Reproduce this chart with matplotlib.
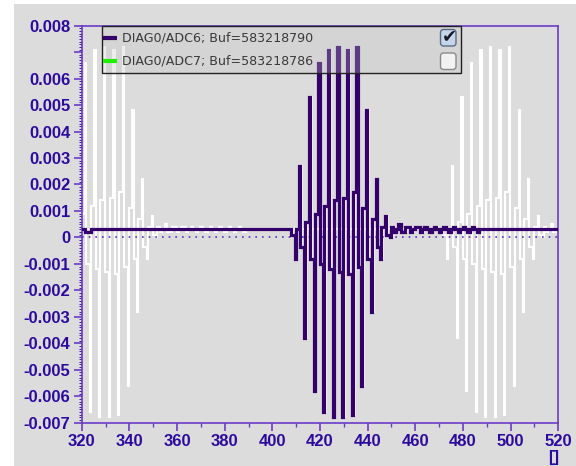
import numpy as np
import matplotlib
matplotlib.use('Agg')
import matplotlib.pyplot as plt
from matplotlib.patches import Rectangle, FancyBboxPatch
from matplotlib.lines import Line2D
from matplotlib.ticker import MultipleLocator, FixedLocator
from matplotlib.transforms import Affine2D

# ---- data ----
baseline = 0.0003
x_start, x_end = 320, 520

# one burst, sample by sample: inner level, peak, inner level, peak ...
burst = [0.0001, -0.0008, 0.0003, 0.0027, -0.00035, -0.0038, 0.0006, 0.0053,
         -0.0008, -0.0058, 0.0009, 0.0066, -0.0010, -0.0066, 0.0012, 0.0071,
         -0.0012, -0.0068, 0.0014, 0.0072, -0.0013, -0.0068, 0.0015, 0.0071,
         -0.0014, -0.0067, 0.0017, 0.0072, -0.0011, -0.0056, 0.0011, 0.0048,
         -0.0008, -0.0028, 0.0007, 0.0022, -0.00035, -0.0008, 0.0004, 0.0008,
         0.0001, 0.0000]
hold_inner, hold_peak = 1.5, 0.5   # how long each level is held (x units)
# small ringing after the burst (held 1 unit each)
tail = [0.0004, 0.0002, 0.0003, 0.0005, 0.0002, 0.0002, 0.0004, 0.0004,
        0.0002, 0.0003, 0.0004, 0.0004, 0.0002, 0.0003, 0.0004, 0.0003,
        0.0002, 0.0003, 0.0004, 0.0003, 0.0002, 0.0003, 0.0004, 0.0003,
        0.0002, 0.0003, 0.0004, 0.0003, 0.0002, 0.0003, 0.0004, 0.0003,
        0.0002, 0.0003, 0.0004, 0.0003, 0.0002, 0.0003]

adc6_start = 407.8            # current buffer (dark)
adc6_dip = (321.5, 324.0, 0.0002)
ghost_starts = [309.8, 471.8]  # older buffers (white)
shadow_start = 408.5          # white copy right behind the dark burst

legend_labels = ['DIAG0/ADC6; Buf=583218790', 'DIAG0/ADC7; Buf=583218786']
legend_colors = ['#34006b', '#22ee00']
legend_checked = [True, False]

yticks = [-0.007, -0.006, -0.005, -0.004, -0.003, -0.002, -0.001, 0.0,
          0.001, 0.002, 0.003, 0.004, 0.005, 0.006, 0.007, 0.008]
ylabels = ['-0.007', '-0.006', '-0.005', '-0.004', '-0.003', '-0.002', '-0.001', '0',
           '0.001', '0.002', '0.003', '0.004', '0.005', '0.006', '', '0.008']
xticks = [320, 340, 360, 380, 400, 420, 440, 460, 480, 500, 520]


# ---- build the traces ----
def trace(t0, left, right):
    """baseline from left..right with the burst starting at t0 (step vertices)"""
    holds = [hold_inner if i % 2 == 0 else hold_peak for i in range(len(burst))]
    holds += [1.0] * len(tail)
    tb = t0 + np.concatenate([[0], np.cumsum(holds)])
    xs = np.concatenate([[left], tb, [right]])
    ys = np.concatenate([[baseline], burst, tail, [baseline], [baseline]])
    return xs, ys


dark_x, dark_y = trace(adc6_start, 300, 560)
# tiny dip near the left edge
dark_x = np.concatenate([[300, adc6_dip[0], adc6_dip[1]], dark_x[1:]])
dark_y = np.concatenate([[baseline, adc6_dip[2], baseline], dark_y[1:]])

ghost = [trace(s, 290, 570) for s in ghost_starts]
shadow = trace(shadow_start, 400, 470)

# ---- figure ----
W, H = 576, 466
BG = '#dcdcdc'
SPINE = '#6a3cc8'
TXT = '#2d0a9e'

fig = plt.figure(figsize=(W / 100, H / 100), dpi=100)
fig.patch.set_facecolor(BG)
ax = fig.add_axes([81.7 / W, 1 - 422.7 / H, (558.3 - 81.7) / W, (422.7 - 25.7) / H])
ax.set_facecolor(BG)

kw = dict(drawstyle='steps-post', solid_joinstyle='miter', solid_capstyle='butt')
for gx, gy in ghost:
    ax.plot(gx, gy, color='white', lw=1.5, zorder=2, **kw)
ax.plot(shadow[0], shadow[1], color='white', lw=1.5, zorder=2, **kw)
ax.axhline(0, color='#5a30c8', lw=1.2, ls=(0, (1, 3)), zorder=3)
ax.plot(dark_x, dark_y, color=legend_colors[0], lw=2.3, zorder=4, **kw)

ax.set_xlim(x_start, x_end)
ax.set_ylim(-0.007, 0.008)

ax.xaxis.set_major_locator(FixedLocator(xticks))
ax.xaxis.set_minor_locator(MultipleLocator(10))
ax.yaxis.set_major_locator(FixedLocator(yticks))
ax.yaxis.set_minor_locator(MultipleLocator(0.0001))
ax.set_yticklabels(ylabels)
ax.set_xticklabels([str(v) for v in xticks])

for sp in ax.spines.values():
    sp.set_color(SPINE)
    sp.set_linewidth(1.2)

tfont = dict(family=['Liberation Sans', 'DejaVu Sans'], weight='bold', size=12)
ax.tick_params(axis='both', which='major', colors=SPINE, labelcolor=TXT,
               direction='out', length=6, width=1.2, pad=2)
ax.tick_params(axis='y', which='minor', colors='#3a1aa8', direction='out',
               length=2.5, width=0.7)
ax.tick_params(axis='x', which='minor', colors=SPINE, direction='out',
               length=3, width=1.0)
for lab in ax.get_xticklabels() + ax.get_yticklabels():
    lab.set_fontproperties(tfont)
    lab.set_color(TXT)

# unit label under the last x tick
ax.text(0.99, -0.088, '[]', transform=ax.transAxes, ha='center', va='center',
        color=TXT, **tfont)

# ---- window frame and legend panel (pixel coords, origin top-left) ----
px = Affine2D().scale(1, -1).translate(0, H)
fig.add_artist(Rectangle((0, 0), 14, H, transform=px, facecolor='white',
                         edgecolor='none', zorder=0))
fig.add_artist(Rectangle((0, 0), W, 3.5, transform=px, facecolor='white',
                         edgecolor='none', zorder=0))

fig.add_artist(Rectangle((101.7, 25.7), 359.3, 47.0, transform=px,
                         facecolor='#c4c4c4', alpha=0.3, edgecolor='none', zorder=5))
fig.add_artist(Rectangle((101.7, 25.7), 359.3, 47.0, transform=px,
                         facecolor='none', edgecolor='#222222', lw=1.0, zorder=6))

rows_y = [37.7, 61.0]
for k in range(2):
    yy = rows_y[k]
    fig.add_artist(Line2D([103, 117], [yy, yy], transform=px,
                          color=legend_colors[k], lw=3.0, zorder=7,
                          solid_capstyle='butt'))
    fig.text(122.5, yy, legend_labels[k], transform=px, ha='left', va='center',
             fontsize=9.1, color='#3a3a3a', family='DejaVu Sans', zorder=7)
    by = 29.5 if k == 0 else 53.0
    if legend_checked[k]:
        fc, ec = '#c6d6ea', '#5a6a82'
    else:
        fc, ec = '#f2f2f2', '#8a8a8a'
    fig.add_artist(FancyBboxPatch((440.5, by), 15.5, 16.5, transform=px,
                                  boxstyle='round,pad=0,rounding_size=3',
                                  facecolor=fc, edgecolor=ec, lw=1.0, zorder=7))
    if legend_checked[k]:
        fig.text(449.5, by + 7.0, '\u2714', transform=px, ha='center', va='center',
                 fontsize=13, color='#161a28', family='DejaVu Sans', zorder=8)

fig.savefig('out.png', dpi=100, facecolor=fig.get_facecolor())
